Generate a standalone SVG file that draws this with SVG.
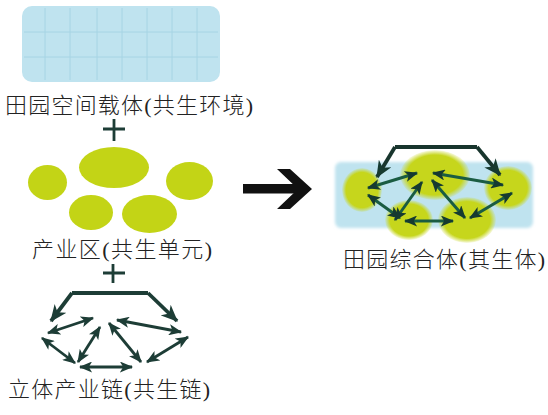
<svg xmlns="http://www.w3.org/2000/svg" width="548" height="415" viewBox="0 0 548 415">
<style>
.lbl{font-family:"Liberation Serif","Noto Sans CJK SC",serif;font-size:22px;font-weight:300;fill:#222}
.plus{stroke:#1d3d36;stroke-width:2.8;fill:none}
.ln{stroke:#1d3d36;stroke-width:2.8;fill:none}
.lnb{stroke:#1d3d36;stroke-width:3.8;fill:none;stroke-linejoin:miter}
.ln2{stroke:#1a5c42;stroke-width:3;fill:none}
.lnb2{stroke:#18352d;stroke-width:3.8;fill:none}
.grid{stroke:#a6d4e4;stroke-width:1}
.blob{fill:#c3d419}
</style>
<defs>
<marker id="ah" viewBox="0 0 12 10" refX="11" refY="5" markerWidth="14" markerHeight="11" markerUnits="userSpaceOnUse" orient="auto-start-reverse"><path d="M0,0 L12,5 L0,10 L3,5 z" fill="#1d3d36"/></marker>
<marker id="ahb" viewBox="0 0 14 12" refX="13" refY="6" markerWidth="17" markerHeight="15" markerUnits="userSpaceOnUse" orient="auto"><path d="M0,0 L14,6 L0,12 L4,6 z" fill="#1d3d36"/></marker>
<marker id="ah2" viewBox="0 0 12 10" refX="11" refY="5" markerWidth="14" markerHeight="11" markerUnits="userSpaceOnUse" orient="auto-start-reverse"><path d="M0,0 L12,5 L0,10 L3,5 z" fill="#163a30"/></marker>
<marker id="ahb2" viewBox="0 0 14 12" refX="13" refY="6" markerWidth="17" markerHeight="15" markerUnits="userSpaceOnUse" orient="auto"><path d="M0,0 L14,6 L0,12 L4,6 z" fill="#163a30"/></marker>
<radialGradient id="yg"><stop offset="0" stop-color="#c6d61c"/><stop offset="0.8" stop-color="#c6d61c"/><stop offset="1" stop-color="#c6d61c" stop-opacity="0.1"/></radialGradient>
<filter id="soft" x="-5%" y="-5%" width="110%" height="110%"><feGaussianBlur stdDeviation="0.6"/></filter>
<filter id="soft2" x="-10%" y="-10%" width="120%" height="120%"><feGaussianBlur stdDeviation="1.5"/></filter>
</defs>

<g id="env">
<rect x="22" y="6" width="198" height="76" rx="10" fill="#bfe3ef" filter="url(#soft)"/>
<g class="grid">
<path d="M45 8V80M70 8V80M97 8V80M122 8V80M147 8V80M172 8V80M197 8V80M24 32H218M24 57H218"/>
</g>
<text class="lbl" x="5" y="113" textLength="248" lengthAdjust="spacing">田园空间载体(共生环境)</text>
</g>

<g id="plus1"><path class="plus" d="M114 119V141M103 129H125"/></g>

<g id="units">
<g filter="url(#soft)">
<ellipse class="blob" cx="47.5" cy="182.5" rx="19.5" ry="17.5"/>
<ellipse class="blob" cx="114" cy="167.5" rx="35" ry="20.5"/>
<ellipse class="blob" cx="189.5" cy="181" rx="23.5" ry="19"/>
<ellipse class="blob" cx="91" cy="212.5" rx="22" ry="17.5"/>
<ellipse class="blob" cx="149.5" cy="214" rx="27.5" ry="19"/>
</g>
<text class="lbl" x="32" y="257" textLength="180" lengthAdjust="spacing">产业区(共生单元)</text>
</g>

<g id="plus2"><path class="plus" d="M113 264V283M103 273H125"/></g>

<g id="chain">
<path class="lnb" d="M72 293H148" />
<path class="lnb" d="M72 293L51 321" marker-end="url(#ahb)"/>
<path class="lnb" d="M148 293L177 321" marker-end="url(#ahb)"/>
<g class="ln">
<path d="M48 333L93 318" marker-start="url(#ah)" marker-end="url(#ah)"/>
<path d="M117 320L181 332" marker-start="url(#ah)" marker-end="url(#ah)"/>
<path d="M42 338L75 363" marker-start="url(#ah)" marker-end="url(#ah)"/>
<path d="M78 362L100 327" marker-start="url(#ah)" marker-end="url(#ah)"/>
<path d="M109 323L141 362" marker-start="url(#ah)" marker-end="url(#ah)"/>
<path d="M147 362L188 337" marker-start="url(#ah)" marker-end="url(#ah)"/>
<path d="M80 367L132 367" marker-start="url(#ah)" marker-end="url(#ah)"/>
</g>
<text class="lbl" x="8" y="397" textLength="202" lengthAdjust="spacing">立体产业链(共生链)</text>
</g>

<g id="bigarrow">
<rect x="243" y="184" width="58" height="9.5" fill="#111"/>
<polygon points="277,169 290,169 312,189 290,209 277,209 298,189" fill="#111"/>
</g>

<g id="whole">
<rect x="335" y="162" width="198" height="66" rx="6" fill="#bfe3ef" filter="url(#soft2)"/>
<ellipse cx="362" cy="190" rx="20" ry="22" fill="url(#yg)"/>
<ellipse cx="435" cy="175" rx="35" ry="25" fill="url(#yg)"/>
<ellipse cx="508" cy="188" rx="24" ry="22" fill="url(#yg)"/>
<ellipse cx="409" cy="220" rx="24" ry="20" fill="url(#yg)"/>
<ellipse cx="467" cy="220" rx="29" ry="23" fill="url(#yg)"/>
<path class="lnb2" d="M395 147H477"/>
<path class="lnb2" d="M395 147L377 177" marker-end="url(#ahb2)"/>
<path class="lnb2" d="M477 147L500 175" marker-end="url(#ahb2)"/>
<g class="ln2">
<path d="M368 188L417 173" marker-start="url(#ah2)" marker-end="url(#ah2)"/>
<path d="M433 173L503 185" marker-start="url(#ah2)" marker-end="url(#ah2)"/>
<path d="M368 195L400 218" marker-start="url(#ah2)" marker-end="url(#ah2)"/>
<path d="M395 220L422 182" marker-start="url(#ah2)" marker-end="url(#ah2)"/>
<path d="M432 180L465 218" marker-start="url(#ah2)" marker-end="url(#ah2)"/>
<path d="M470 218L512 193" marker-start="url(#ah2)" marker-end="url(#ah2)"/>
<path d="M405 221L453 221" marker-start="url(#ah2)" marker-end="url(#ah2)"/>
</g>
<text class="lbl" x="343" y="267" textLength="202" lengthAdjust="spacing">田园综合体(其生体)</text>
</g>
</svg>
